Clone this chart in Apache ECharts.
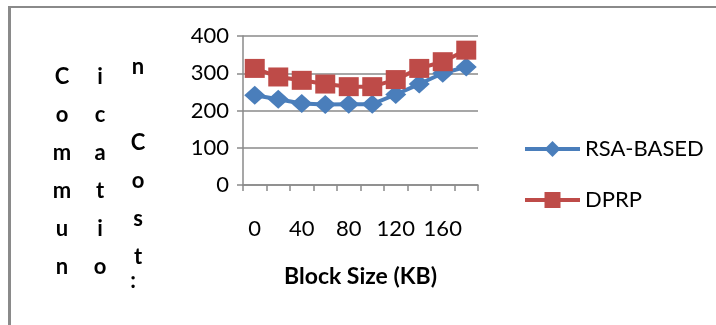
<!DOCTYPE html>
<html>
<head>
<meta charset="utf-8">
<script src="https://cdn.jsdelivr.net/npm/echarts@6/dist/echarts.min.js"></script>
<style>
html,body{margin:0;padding:0;background:#fff;}
#c{width:716px;height:325px;}
</style>
</head>
<body>
<div id="c"></div>
<script>
const categories = ['0','20','40','60','80','100','120','140','160','180'];
const rsaBased = [241, 230, 219, 216, 217, 217, 243, 271, 300, 317];
const dprp = [313, 290, 281, 271, 264, 264, 283, 313, 331, 362];
const seriesNames = ['RSA-BASED', 'DPRP'];
const yTitleCols = [['C','o','m','m','u','n'], ['i','c','a','t','i','o'], ['n','','C','o','s','t']];
const xTitle = 'Block Size (KB)';

const FONT = 'Lato';
const gray = '#8a8a8a';
const chart = echarts.init(document.getElementById('c'), null, {renderer: 'canvas'});
chart.setOption({
  animation: false,
  backgroundColor: '#fff',
  grid: {left: 243, right: 238, top: 36, bottom: 140, containLabel: false},
  legend: {
    orient: 'vertical', left: 518, top: 133,
    itemWidth: 55, itemHeight: 20, itemGap: 29,
    textStyle: {fontFamily: FONT, fontSize: 22, color: '#000'},
    lineStyle: {width: 4},
    data: seriesNames
  },
  xAxis: {
    type: 'category', data: categories, boundaryGap: true,
    axisLine: {lineStyle: {color: gray, width: 1.5}},
    axisTick: {show: true, interval: 0, length: 6, lineStyle: {color: gray, width: 1.5}},
    axisLabel: {interval: 1, margin: 33, fontFamily: FONT, fontSize: 22, color: '#000'}
  },
  yAxis: {
    type: 'value', min: 0, max: 400, interval: 100,
    axisLine: {show: true, lineStyle: {color: gray, width: 1.5}},
    axisTick: {show: true, length: 6, lineStyle: {color: gray, width: 1.5}},
    splitLine: {lineStyle: {color: gray, width: 1.5}},
    axisLabel: {margin: 14, fontFamily: FONT, fontSize: 22, color: '#000'}
  },
  series: [
    {name: seriesNames[0], type: 'line', data: rsaBased, symbol: 'diamond', symbolSize: [21, 19], showAllSymbol: true,
     lineStyle: {color: '#4A7EBB', width: 4}, itemStyle: {color: '#4A7EBB'}, z: 2},
    {name: seriesNames[1], type: 'line', data: dprp, symbol: 'rect', symbolSize: [20, 19], showAllSymbol: true,
     lineStyle: {color: '#BE4B48', width: 4}, itemStyle: {color: '#BE4B48'}, z: 3}
  ],
  graphic: [
    {type: 'line', shape: {x1: 8, y1: 7, x2: 716, y2: 7}, style: {stroke: gray, lineWidth: 2}},
    {type: 'line', shape: {x1: 9.5, y1: 6, x2: 9.5, y2: 325}, style: {stroke: gray, lineWidth: 3}},
    {type: 'text', left: 284, top: 265, style: {text: xTitle, font: 'bold 23px ' + FONT, fill: '#000'}},
    {type: 'text', x: 62, y: 58, style: {text: yTitleCols[0].join('\n'), font: 'bold 22px ' + FONT, fill: '#000', textAlign: 'center', textVerticalAlign: 'top', lineHeight: 38}},
    {type: 'text', x: 100, y: 58, style: {text: yTitleCols[1].join('\n'), font: 'bold 22px ' + FONT, fill: '#000', textAlign: 'center', textVerticalAlign: 'top', lineHeight: 38}},
    {type: 'text', x: 138, y: 48, style: {text: yTitleCols[2].join('\n'), font: 'bold 22px ' + FONT, fill: '#000', textAlign: 'center', textVerticalAlign: 'top', lineHeight: 38}},
    {type: 'text', x: 133, y: 270, style: {text: ':', font: 'bold 22px ' + FONT, fill: '#000', textAlign: 'center', textVerticalAlign: 'top'}}
  ]
});
</script>
</body>
</html>
